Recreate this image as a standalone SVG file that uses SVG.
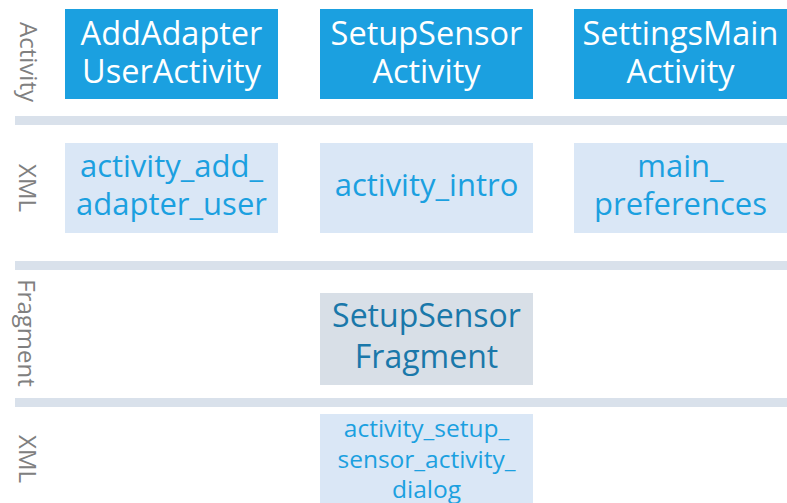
<svg xmlns="http://www.w3.org/2000/svg" width="787" height="503" viewBox="0 0 787 503">
<style>
text{font-family:"Open Sans","Noto Sans","Liberation Sans",sans-serif;text-anchor:middle}
.act{fill:#1BA0E0}
.actt{fill:#ffffff;font-size:32.5px}
.xml{fill:#DAE7F6}
.xmlt{fill:#1BA0E0;font-size:31px}
.xmls{fill:#1BA0E0;font-size:24.5px}
.frag{fill:#D8DFE7}
.fragt{fill:#1A78AA;font-size:32px}
.sep{fill:#D9E1EB}
.lbl{fill:#808080;font-size:24px}
</style>
<rect width="787" height="503" fill="#ffffff"/>
<g id="separators">
<rect class="sep" x="15" y="116" width="772" height="9"/>
<rect class="sep" x="15" y="261" width="772" height="9"/>
<rect class="sep" x="15" y="398" width="772" height="9"/>
</g>
<g id="lane-labels">
<text class="lbl" transform="translate(20,62) rotate(90)">Activity</text>
<text class="lbl" transform="translate(19,188) rotate(90)">XML</text>
<text class="lbl" transform="translate(18,333) rotate(90)">Fragment</text>
<text class="lbl" transform="translate(19,459) rotate(90)">XML</text>
</g>
<g id="node-addadapter-activity">
<rect class="act" x="65" y="9" width="213" height="90"/>
<text class="actt" x="171.5" y="45">AddAdapter<tspan x="171.5" dy="38">UserActivity</tspan></text>
</g>
<g id="node-setupsensor-activity">
<rect class="act" x="320" y="9" width="213" height="90"/>
<text class="actt" x="426.5" y="45">SetupSensor<tspan x="426.5" dy="38">Activity</tspan></text>
</g>
<g id="node-settingsmain-activity">
<rect class="act" x="574" y="9" width="213" height="90"/>
<text class="actt" x="680.5" y="45">SettingsMain<tspan x="680.5" dy="38">Activity</tspan></text>
</g>
<g id="node-xml-add-adapter-user">
<rect class="xml" x="65" y="143" width="213" height="90"/>
<text class="xmlt" x="171.5" y="177">activity_add_<tspan x="171.5" dy="38">adapter_user</tspan></text>
</g>
<g id="node-xml-intro">
<rect class="xml" x="320" y="143" width="213" height="90"/>
<text class="xmlt" x="426.5" y="196">activity_intro</text>
</g>
<g id="node-xml-main-preferences">
<rect class="xml" x="574" y="143" width="213" height="90"/>
<text class="xmlt" x="680.5" y="177">main_<tspan x="680.5" dy="38">preferences</tspan></text>
</g>
<g id="node-setupsensor-fragment">
<rect class="frag" x="320" y="293" width="213" height="92"/>
<text class="fragt" x="426.5" y="327">SetupSensor<tspan x="426.5" dy="41">Fragment</tspan></text>
</g>
<g id="node-xml-setup-sensor-dialog">
<rect class="xml" x="320" y="414" width="213" height="89"/>
<text class="xmls" x="426.5" y="437">activity_setup_<tspan x="426.5" dy="31">sensor_activity_</tspan><tspan x="426.5" dy="30">dialog</tspan></text>
</g>
<g id="connectors"></g>
</svg>
